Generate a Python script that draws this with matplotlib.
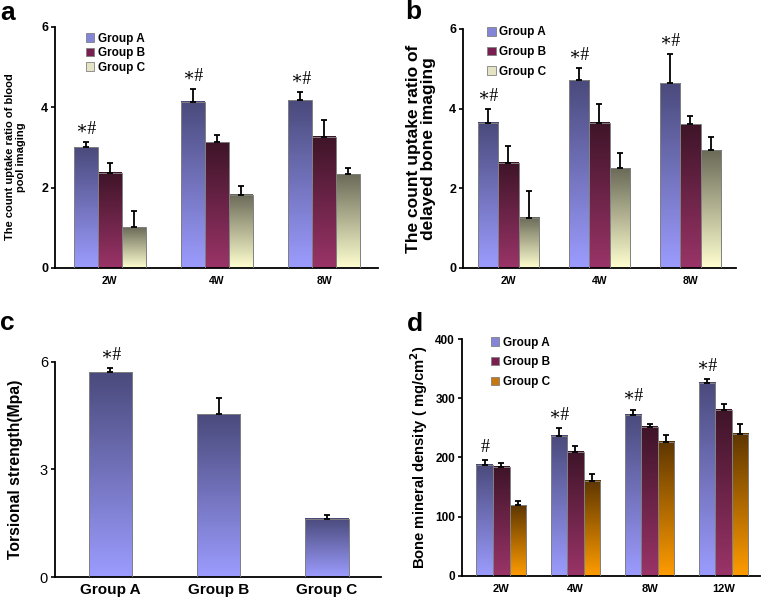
import numpy as np
import matplotlib
matplotlib.use("Agg")
import matplotlib.pyplot as plt
from matplotlib.colors import LinearSegmentedColormap
from matplotlib.patches import Patch

# panel a: blood pool imaging
weeks3 = ["2W", "4W", "8W"]
a_A = [3.0, 4.14, 4.17]
a_B = [2.37, 3.13, 3.27]
a_C = [1.02, 1.82, 2.33]
a_A_err = [0.13, 0.32, 0.20]
a_B_err = [0.25, 0.19, 0.41]
a_C_err = [0.39, 0.22, 0.15]

# panel b: delayed bone imaging
b_A = [3.64, 4.71, 4.64]
b_B = [2.64, 3.64, 3.61]
b_C = [1.26, 2.50, 2.95]
b_A_err = [0.35, 0.31, 0.73]
b_B_err = [0.41, 0.48, 0.21]
b_C_err = [0.66, 0.38, 0.33]

# panel c: torsional strength
groups = ["Group A", "Group B", "Group C"]
c_vals = [5.72, 4.54, 1.62]
c_err = [0.10, 0.46, 0.10]

# panel d: bone mineral density
weeks4 = ["2W", "4W", "8W", "12W"]
d_A = [188, 237, 272, 326]
d_B = [184, 210, 252, 281]
d_C = [119, 161, 227, 240]
d_A_err = [8, 13, 9, 7]
d_B_err = [6, 9, 4, 9]
d_C_err = [8, 11, 11, 17]
d_marks = ["#", "∗#", "∗#", "∗#"]

A_cols = ("#4a4a7c", "#9c9cff")
B_cols = ("#3e1428", "#9a3468")
C_cols = ("#6a6a58", "#ffffd0")
D_cols = ("#5e3600", "#ff9c00")

SANS = ["Liberation Sans", "DejaVu Sans"]
SERIF = ["Liberation Serif", "DejaVu Serif"]

plt.rcParams['font.family'] = SANS


def grad_bars(ax, x, h, w, cols):
    bars = ax.bar(x, h, w, color='none', edgecolor='#808080', linewidth=0.7, zorder=3)
    cmap = LinearSegmentedColormap.from_list('g', [cols[1], cols[0]])
    grad = np.linspace(0, 1, 256).reshape(-1, 1)
    for b in bars:
        ax.imshow(grad, extent=[b.get_x(), b.get_x() + b.get_width(), 0, b.get_height()],
                  origin='lower', cmap=cmap, aspect='auto', zorder=2, interpolation='bilinear')
    return bars


def err_up(ax, x, h, e):
    ax.errorbar(x, h, yerr=[np.zeros(len(e)), e], fmt='none', ecolor='black',
                elinewidth=1.3, capsize=2, capthick=1.3, zorder=4)


def style(ax, xlim, ylim, yticks):
    ax.set_xlim(xlim)
    ax.set_ylim(ylim)
    ax.set_yticks(yticks)
    for s in ['top', 'right']:
        ax.spines[s].set_visible(False)
    for s in ['left', 'bottom']:
        ax.spines[s].set_linewidth(1.3)
    ax.tick_params(axis='x', length=0, pad=6)
    ax.tick_params(axis='y', length=3, width=1.2, pad=2)


def grouped(ax, cats, series, errs, colors, w):
    x = np.arange(len(cats))
    for i, (vals, e, cl) in enumerate(zip(series, errs, colors)):
        xi = x + (i - 1) * w
        grad_bars(ax, xi, vals, w, cl)
        err_up(ax, xi, vals, e)
    return x


def stars(ax, xs, vals, errs, marks):
    for xi, v, e, m in zip(xs, vals, errs, marks):
        ax.annotate(m, (xi, v + e), xytext=(0, 3), textcoords='offset points',
                    ha='center', va='bottom', fontsize=13, family=SERIF)


fig = plt.figure(figsize=(7.61, 6.03), dpi=100)

# ---- a
ax = fig.add_axes([0.0723, 0.5556, 0.4244, 0.3997])
w = 0.223
x = grouped(ax, weeks3, [a_A, a_B, a_C], [a_A_err, a_B_err, a_C_err], [A_cols, B_cols, C_cols], w)
stars(ax, x - w, a_A, a_A_err, ["∗#"] * 3)
style(ax, (-0.51, 2.5), (0, 6), [0, 2, 4, 6])
ax.set_xticks(x)
ax.set_xticklabels(weeks3, fontsize=7.5, fontweight='bold')
for t in ax.get_yticklabels():
    t.set_fontsize(9)
    t.set_fontweight('bold')
ax.set_ylabel("The count uptake ratio of blood\npool imaging", fontsize=8, fontweight='bold',
              linespacing=1.1)
ax.yaxis.set_label_coords(-0.09, 0.46)
h = [Patch(facecolor='#8484d8', edgecolor='#808080', lw=0.6),
     Patch(facecolor='#7a2050', edgecolor='#808080', lw=0.6),
     Patch(facecolor='#e4e4c4', edgecolor='#808080', lw=0.6)]
ax.legend(h, groups, loc='upper left', bbox_to_anchor=(0.08, 0.995), frameon=False,
          prop={'weight': 'bold', 'size': 8.5}, handlelength=0.75, handleheight=0.75,
          handletextpad=0.3, labelspacing=0.2, borderaxespad=0)

# ---- b
ax = fig.add_axes([0.6084, 0.5556, 0.3587, 0.3964])
x = grouped(ax, weeks3, [b_A, b_B, b_C], [b_A_err, b_B_err, b_C_err], [A_cols, B_cols, C_cols], w)
stars(ax, x - w, b_A, b_A_err, ["∗#"] * 3)
style(ax, (-0.5, 2.5), (0, 6), [0, 2, 4, 6])
ax.set_xticks(x)
ax.set_xticklabels(weeks3, fontsize=7.5, fontweight='bold')
for t in ax.get_yticklabels():
    t.set_fontsize(9)
    t.set_fontweight('bold')
ax.set_ylabel("The count uptake ratio of\ndelayed bone imaging", fontsize=12.5, fontweight='bold',
              linespacing=1.0)
ax.yaxis.set_label_coords(-0.1, 0.5)
ax.legend(h, groups, loc='upper left', bbox_to_anchor=(0.07, 1.03), frameon=False,
          prop={'weight': 'bold', 'size': 8.5}, handlelength=0.75,
          handleheight=0.75, handletextpad=0.3, labelspacing=0.65, borderaxespad=0)

# ---- c
ax = fig.add_axes([0.0723, 0.0431, 0.4284, 0.3566])
xc = np.arange(len(groups))
grad_bars(ax, xc, c_vals, 0.40, A_cols)
err_up(ax, xc, c_vals, c_err)
stars(ax, xc[:1], c_vals[:1], c_err[:1], ["∗#"])
style(ax, (-0.51, 2.5), (0, 6), [0, 3, 6])
ax.set_xticks(xc)
ax.set_xticklabels(groups, fontsize=11, fontweight='bold')
ax.tick_params(axis='x', pad=4)
for t in ax.get_yticklabels():
    t.set_fontsize(10.5)
ax.set_ylabel("Torsional strength(Mpa)", fontsize=11.3, fontweight='bold')
ax.yaxis.set_label_coords(-0.098, 0.5)

# ---- d
ax = fig.add_axes([0.6071, 0.0448, 0.3916, 0.393])
x = grouped(ax, weeks4, [d_A, d_B, d_C], [d_A_err, d_B_err, d_C_err], [A_cols, B_cols, D_cols], w)
stars(ax, x - w, d_A, d_A_err, d_marks)
style(ax, (-0.53, 3.49), (0, 400), [0, 100, 200, 300, 400])
ax.set_xticks(x)
ax.set_xticklabels(weeks4, fontsize=8, fontweight='bold')
for t in ax.get_yticklabels():
    t.set_fontsize(8.5)
    t.set_fontweight('bold')
ax.set_ylabel("Bone mineral density ( mg/cm$^\\mathbf{2}$)", fontsize=10.6, fontweight='bold')
ax.yaxis.set_label_coords(-0.107, 0.5)
hd = [h[0], h[1], Patch(facecolor='#c87810', edgecolor='#808080', lw=0.6)]
ax.legend(hd, groups, loc='upper left', bbox_to_anchor=(0.08, 1.03), frameon=False,
          prop={'weight': 'bold', 'size': 8.5}, handlelength=0.75,
          handleheight=0.75, handletextpad=0.3, labelspacing=0.65, borderaxespad=0)

# panel letters
for lab, px, py in [("a", 0, 20), ("b", 405, 19), ("c", 0, 330), ("d", 407, 331)]:
    fig.text(px / 761, 1 - py / 603, lab, fontsize=19, fontweight='bold', ha='left', va='baseline')

fig.savefig("out.png", dpi=100)
